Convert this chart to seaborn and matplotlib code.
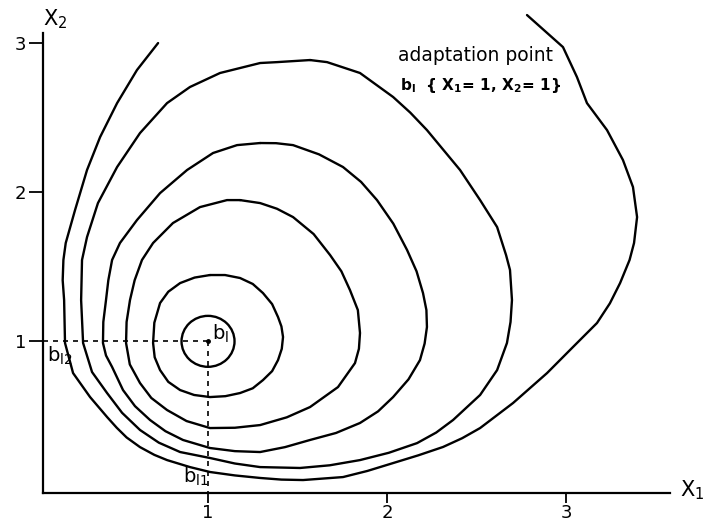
import matplotlib
matplotlib.use("Agg")
import matplotlib.pyplot as plt
from matplotlib.patches import Ellipse
import seaborn as sns

sns.set_style("white")
plt.rcParams["font.family"] = ["DejaVu Sans"]
plt.rcParams["mathtext.fontset"] = "dejavusans"
plt.rcParams["text.color"] = "black"
plt.rcParams["xtick.color"] = "black"
plt.rcParams["ytick.color"] = "black"

# Contours around the adaptation point b_l = (1, 1), outermost first
outer_x = [0.721, 0.603, 0.492, 0.397, 0.324, 0.257, 0.205, 0.192, 0.188, 0.196,
           0.201, 0.246, 0.341, 0.436, 0.490, 0.545, 0.620, 0.700, 0.771, 0.899,
           1.011, 1.150, 1.291, 1.410, 1.531, 1.754, 1.890, 2.034, 2.175, 2.313,
           2.420, 2.520, 2.704, 2.894, 3.039, 3.173, 3.245, 3.302, 3.355, 3.380,
           3.397, 3.374, 3.318, 3.229, 3.117, 3.061, 2.983, 2.782]
outer_y = [3.002, 2.821, 2.599, 2.371, 2.150, 1.881, 1.660, 1.546, 1.410, 1.277,
           0.989, 0.787, 0.626, 0.492, 0.420, 0.355, 0.290, 0.238, 0.203, 0.156,
           0.123, 0.100, 0.083, 0.072, 0.069, 0.089, 0.130, 0.183, 0.235, 0.291,
           0.350, 0.418, 0.586, 0.787, 0.962, 1.123, 1.255, 1.391, 1.546, 1.660,
           1.834, 2.036, 2.217, 2.418, 2.599, 2.774, 2.975, 3.190]

ring5_x = [1.570, 1.385, 1.291, 1.067, 0.899, 0.771, 0.620, 0.492, 0.385, 0.324,
           0.296, 0.291, 0.302, 0.352, 0.436, 0.520, 0.620, 0.725, 0.844, 1.011,
           1.150, 1.291, 1.514, 1.680, 1.849, 2.010, 2.168, 2.275, 2.369, 2.520,
           2.615, 2.670, 2.690, 2.698, 2.687, 2.665, 2.615, 2.520, 2.408, 2.223,
           2.130, 2.034, 1.849, 1.665, 1.570]
ring5_y = [2.888, 2.874, 2.868, 2.801, 2.707, 2.599, 2.398, 2.170, 1.928, 1.700,
           1.546, 1.277, 0.989, 0.794, 0.653, 0.520, 0.405, 0.320, 0.257, 0.217,
           0.180, 0.156, 0.150, 0.168, 0.203, 0.252, 0.317, 0.388, 0.472, 0.640,
           0.807, 0.989, 1.130, 1.277, 1.479, 1.579, 1.767, 1.948, 2.150, 2.418,
           2.535, 2.640, 2.801, 2.874, 2.888]

ring4_x = [1.291, 1.162, 1.028, 0.883, 0.732, 0.603, 0.508, 0.464, 0.443, 0.430,
           0.415, 0.413, 0.430, 0.464, 0.525, 0.592, 0.676, 0.762, 0.860, 1.011,
           1.150, 1.291, 1.430, 1.570, 1.715, 1.849, 1.950, 2.034, 2.120, 2.184,
           2.210, 2.223, 2.220, 2.201, 2.165, 2.112, 2.035, 1.944, 1.855, 1.754,
           1.620, 1.475, 1.380, 1.291]
ring4_y = [2.331, 2.317, 2.264, 2.150, 1.995, 1.814, 1.660, 1.546, 1.410, 1.277,
           1.130, 0.989, 0.905, 0.828, 0.673, 0.565, 0.472, 0.397, 0.338, 0.284,
           0.263, 0.257, 0.290, 0.338, 0.385, 0.452, 0.530, 0.626, 0.745, 0.874,
           0.985, 1.096, 1.210, 1.324, 1.470, 1.613, 1.790, 1.948, 2.070, 2.170,
           2.255, 2.317, 2.330, 2.331]

ring3_x = [1.179, 1.106, 0.955, 0.804, 0.693, 0.631, 0.590, 0.564, 0.545, 0.542,
           0.563, 0.620, 0.683, 0.771, 0.880, 1.011, 1.150, 1.291, 1.440, 1.570,
           1.726, 1.821, 1.843, 1.849, 1.837, 1.793, 1.745, 1.682, 1.590, 1.475,
           1.385, 1.291, 1.179]
ring3_y = [1.948, 1.948, 1.901, 1.794, 1.660, 1.546, 1.410, 1.277, 1.130, 0.989,
           0.845, 0.720, 0.620, 0.539, 0.465, 0.418, 0.420, 0.438, 0.490, 0.559,
           0.693, 0.854, 0.950, 1.056, 1.210, 1.344, 1.470, 1.579, 1.720, 1.834,
           1.890, 1.928, 1.948]

ring2_x = [1.011, 0.925, 0.844, 0.778, 0.732, 0.700, 0.693, 0.702, 0.732, 0.778,
           0.844, 0.922, 1.011, 1.097, 1.179, 1.250, 1.307, 1.358, 1.391, 1.412,
           1.419, 1.410, 1.391, 1.358, 1.307, 1.250, 1.179, 1.095, 1.011]
ring2_y = [1.445, 1.428, 1.391, 1.333, 1.257, 1.125, 0.989, 0.893, 0.807, 0.728,
           0.673, 0.640, 0.626, 0.632, 0.653, 0.685, 0.740, 0.800, 0.874, 0.950,
           1.029, 1.100, 1.163, 1.250, 1.324, 1.385, 1.425, 1.445, 1.445]

# innermost circle: centre and diameters
inner_center = (1.0, 1.0)
inner_width = 0.296
inner_height = 0.342

# adaptation point
b_point = (1.0, 1.0)

x_ticks = [1, 2, 3]
y_ticks = [1, 2, 3]

fig = plt.figure(figsize=(7.06, 5.27), dpi=100)
ax = fig.add_axes([0.0609, 0.0645, 0.9391, 0.9355])

x_lo, x_hi = 0.078, 3.782
y_lo, y_hi = -0.018, 3.291
ax.set_xlim(x_lo, x_hi)
ax.set_ylim(y_lo, y_hi)

curves = [(outer_x, outer_y), (ring5_x, ring5_y), (ring4_x, ring4_y),
          (ring3_x, ring3_y), (ring2_x, ring2_y)]
for cx, cy in curves:
    sns.lineplot(x=cx, y=cy, sort=False, estimator=None, color="black",
                 linewidth=1.7, ax=ax, solid_joinstyle="round",
                 solid_capstyle="round", clip_on=False)

ax.add_patch(Ellipse(inner_center, inner_width, inner_height, fill=False,
                     edgecolor="black", linewidth=1.7))

# dashed guides from the adaptation point to both axes
bx, by = b_point
sns.lineplot(x=[x_lo, bx], y=[by, by], sort=False, estimator=None,
             color="black", linewidth=1.2, linestyle=(0, (3, 3)), ax=ax)
sns.lineplot(x=[bx, bx], y=[by, y_lo], sort=False, estimator=None,
             color="black", linewidth=1.2, linestyle=(0, (3, 3)), ax=ax)
ax.plot([bx], [by], marker="o", markersize=2.5, color="black")

for side in ("top", "right"):
    ax.spines[side].set_visible(False)
ax.spines["left"].set_bounds(y_lo, 3.07)
ax.spines["bottom"].set_bounds(x_lo, 3.58)
for side in ("left", "bottom"):
    ax.spines[side].set_linewidth(1.6)
    ax.spines[side].set_color("black")

ax.set_xticks(x_ticks)
ax.set_yticks(y_ticks)
ax.set_xticklabels([str(t) for t in x_ticks])
ax.set_yticklabels([str(t) for t in y_ticks])
ax.tick_params(direction="out", length=7, width=1.3, labelsize=13, pad=1,
               colors="black", left=True, bottom=True)
ax.tick_params(axis="y", length=10, pad=2)
ax.set_xlabel("")
ax.set_ylabel("")

# axis names
ax.text(0.078, 3.16, r"X$_2$", fontsize=15, ha="left", va="center",
        clip_on=False)
ax.text(3.637, 0.0, r"X$_1$", fontsize=15, ha="left", va="center",
        clip_on=False)

# annotation of the adaptation point
ax.text(2.061, 2.881, "adaptation point", fontsize=13.5, ha="left",
        va="baseline")
ax.text(2.07, 2.687, r"b$_\mathbf{l}$  { X$_\mathbf{1}$= 1, X$_\mathbf{2}$= 1}",
        fontsize=11, fontweight="bold", ha="left", va="baseline")

# point and projection labels
ax.text(1.022, 1.009, r"b$_\mathregular{l}$", fontsize=14, ha="left",
        va="baseline")
ax.text(0.10, 0.861, r"b$_\mathregular{l2}$", fontsize=14, ha="left",
        va="baseline")
ax.text(0.86, 0.049, r"b$_\mathregular{l1}$", fontsize=14, ha="left",
        va="baseline")

fig.savefig("out.png", dpi=100, facecolor="white")
